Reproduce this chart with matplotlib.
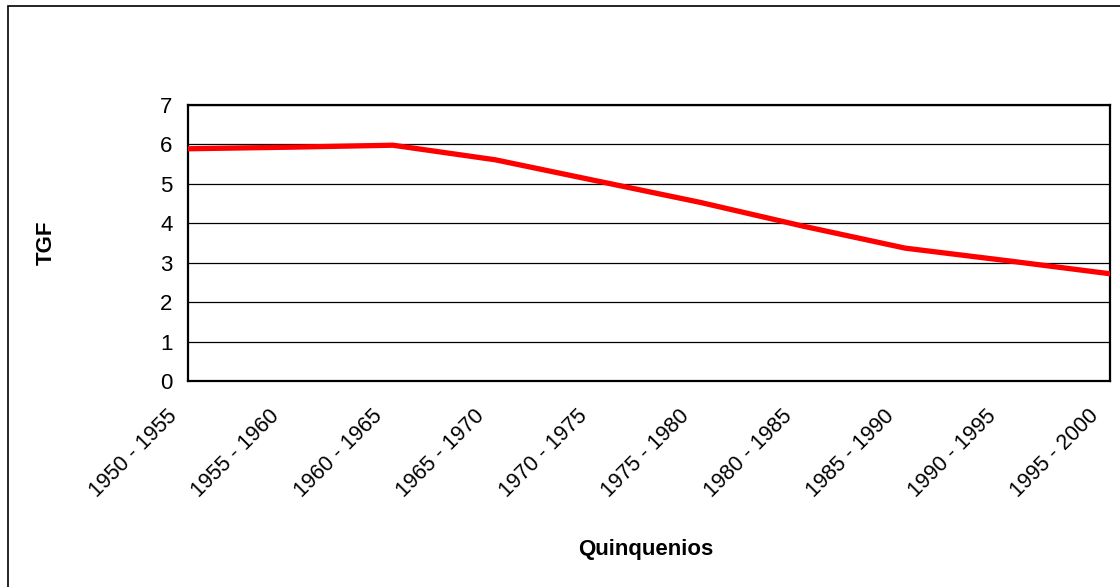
import matplotlib
matplotlib.use("Agg")
import matplotlib.pyplot as plt
from matplotlib.patches import Rectangle

# datos: tasa global de fecundidad por quinquenio
quinquenios = ["1950 - 1955", "1955 - 1960", "1960 - 1965", "1965 - 1970",
               "1970 - 1975", "1975 - 1980", "1980 - 1985", "1985 - 1990",
               "1990 - 1995", "1995 - 2000"]
tgf = [5.89, 5.93, 5.98, 5.61, 5.07, 4.53, 3.93, 3.37, 3.05, 2.72]
yticks = [0, 1, 2, 3, 4, 5, 6, 7]

plt.rcParams['font.family'] = ['Liberation Sans', 'DejaVu Sans']

fig = plt.figure(figsize=(11.2, 5.87), dpi=100)
ax = fig.add_axes([188/1120, 1-381/587, (1110-188)/1120, (381-105)/587])

x = list(range(len(quinquenios)))
ax.plot(x, tgf, color='#ff0000', linewidth=3.8, solid_joinstyle='round', zorder=3)

ax.set_xlim(0, len(quinquenios)-1)
ax.set_ylim(0, 7)
ax.set_yticks(yticks)
ax.set_yticklabels([str(v) for v in yticks], fontsize=16)
ax.tick_params(axis='y', length=0, pad=11)
ax.yaxis.grid(True, color='black', linewidth=0.9)
ax.set_axisbelow(True)
for s in ax.spines.values():
    s.set_linewidth(1.6)
    s.set_color('black')

# etiquetas del eje x, giradas como en Excel
ax.set_xticks(x)
ax.set_xticklabels([])
ax.tick_params(axis='x', length=0)
for i, lab in enumerate(quinquenios):
    ax.annotate(lab, xy=(i, 0), xycoords=('data', 'axes fraction'),
                xytext=(-14, -32), textcoords='offset pixels',
                rotation=45, rotation_mode='anchor', ha='right', va='center',
                fontsize=15.5)

fig.text(46/1120, 1-243/587, 'TGF', rotation=90, ha='center', va='center',
         fontsize=16, fontweight='bold')
fig.text(646/1120, 1-549/587, 'Quinquenios', ha='center', va='center',
         fontsize=16, fontweight='bold')

# marco exterior del gráfico
fig.patches.append(Rectangle((7.5/1120, -0.1), 1.2, 1-5.5/587+0.1,
                             transform=fig.transFigure, fill=False,
                             edgecolor='black', linewidth=1.2))

fig.savefig('out.png', dpi=100)
